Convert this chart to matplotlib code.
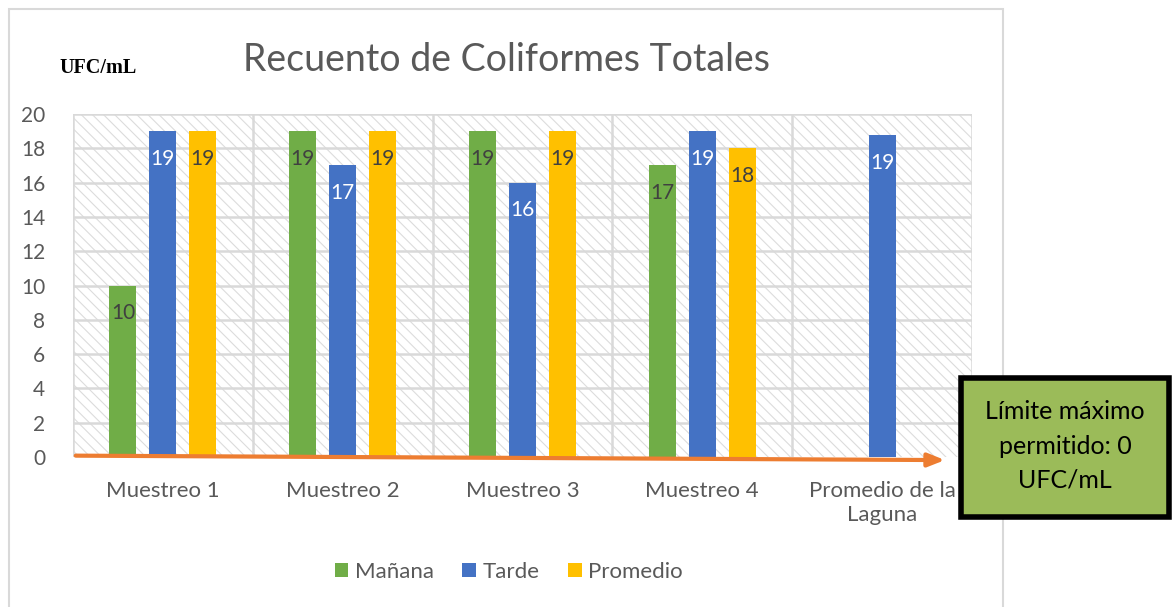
import matplotlib
matplotlib.use('Agg')
import matplotlib.pyplot as plt
import numpy as np
from matplotlib.patches import Rectangle, Patch

plt.rcParams['font.family'] = ['Lato', 'DejaVu Sans']
plt.rcParams['hatch.linewidth'] = 0.8
plt.rcParams['hatch.color'] = '#dcdcdc'

# datos
categorias = ['Muestreo 1', 'Muestreo 2', 'Muestreo 3', 'Muestreo 4', 'Promedio de la\nLaguna']
manana = [10, 19, 19, 17, None]
tarde = [19, 17, 16, 19, 18.75]
promedio = [19, 19, 19, 18, None]
etiquetas_tarde = ['19', '17', '16', '19', '19']

series = [('Mañana', manana, '#70AD47', '#404040'),
          ('Tarde', tarde, '#4472C4', 'white'),
          ('Promedio', promedio, '#FFC000', '#404040')]

gris = '#595959'

fig = plt.figure(figsize=(11.75, 6.07), dpi=100)
ax = fig.add_axes([0.0621, 0.2471, 0.7651, 0.5651])

# fondo rayado del area de trazado
ax.patch.set_facecolor('white')
ax.patch.set_hatch('\\\\\\')
ax.patch.set_edgecolor('#dcdcdc')

x = np.arange(len(categorias))
ancho = 0.15
desplaz = [-0.222, 0, 0.222]

for (nombre, vals, color, col_txt), d in zip(series, desplaz):
    for i, v in enumerate(vals):
        if v is None:
            continue
        ax.bar(x[i] + d, v, width=ancho, color=color, zorder=3)
        txt = etiquetas_tarde[i] if nombre == 'Tarde' else str(int(v))
        ax.annotate(txt, (x[i] + d, v), xytext=(0, -20), textcoords='offset points',
                    ha='center', va='center', fontsize=15, color=col_txt, zorder=4)

ax.set_xlim(-0.5, len(categorias) - 0.5)
ax.set_ylim(0, 20)
ax.set_yticks(range(0, 21, 2))
ax.set_xticks(x)
ax.set_xticklabels(categorias, fontsize=16, color=gris, linespacing=1.25)
ax.tick_params(axis='y', labelsize=15, labelcolor=gris, length=0, pad=20)
ax.tick_params(axis='x', length=0, pad=17)

# rejilla
for yv in range(2, 21, 2):
    ax.axhline(yv, color='#d9d9d9', lw=1.8, zorder=1)
for xv in np.arange(-0.5, len(categorias), 1):
    ax.axvline(xv, color='#d9d9d9', lw=1.8, zorder=1)
for s in ax.spines.values():
    s.set_visible(False)

# flecha naranja sobre el eje x
ax.annotate('', xy=(0.973, -0.009), xytext=(0.0, 0.004), xycoords='axes fraction',
            arrowprops=dict(arrowstyle='-|>,head_length=1.0,head_width=0.4',
                            color='#ED7D31', lw=3), zorder=5, annotation_clip=False)

# titulo y unidad
fig.text(0.431, 0.901, 'Recuento de Coliformes Totales', fontsize=27, color=gris,
         ha='center', va='center')
fig.text(0.051, 0.888, 'UFC/mL', fontsize=14.5, fontweight='bold',
         family='Liberation Serif', ha='left', va='center', color='black')

# borde del grafico
fig.patches.append(Rectangle((9 / 1175, -0.01), (1003 - 9) / 1175, 1 - 9 / 607 + 0.01,
                             transform=fig.transFigure, fill=False,
                             edgecolor='#d9d9d9', lw=1.5))

# recuadro del limite
fig.patches.append(Rectangle((961 / 1175, 1 - 517 / 607), 208 / 1175, 139 / 607,
                             transform=fig.transFigure, facecolor='#9BBB59',
                             edgecolor='black', lw=4, zorder=10))
fig.text(1065 / 1175, 1 - 446 / 607, 'Límite máximo\npermitido: 0\nUFC/mL', fontsize=18,
         ha='center', va='center', linespacing=1.6, color='black', zorder=11)

# leyenda
handles = [Patch(facecolor=c, label=n) for n, _, c, _ in series]
fig.legend(handles=handles, loc='center', bbox_to_anchor=(0.433, 0.058), ncol=3,
           frameon=False, fontsize=16, handlelength=0.6, handleheight=0.6,
           handletextpad=0.3, columnspacing=1.3, labelcolor=gris)

fig.savefig('out.png', dpi=100)
